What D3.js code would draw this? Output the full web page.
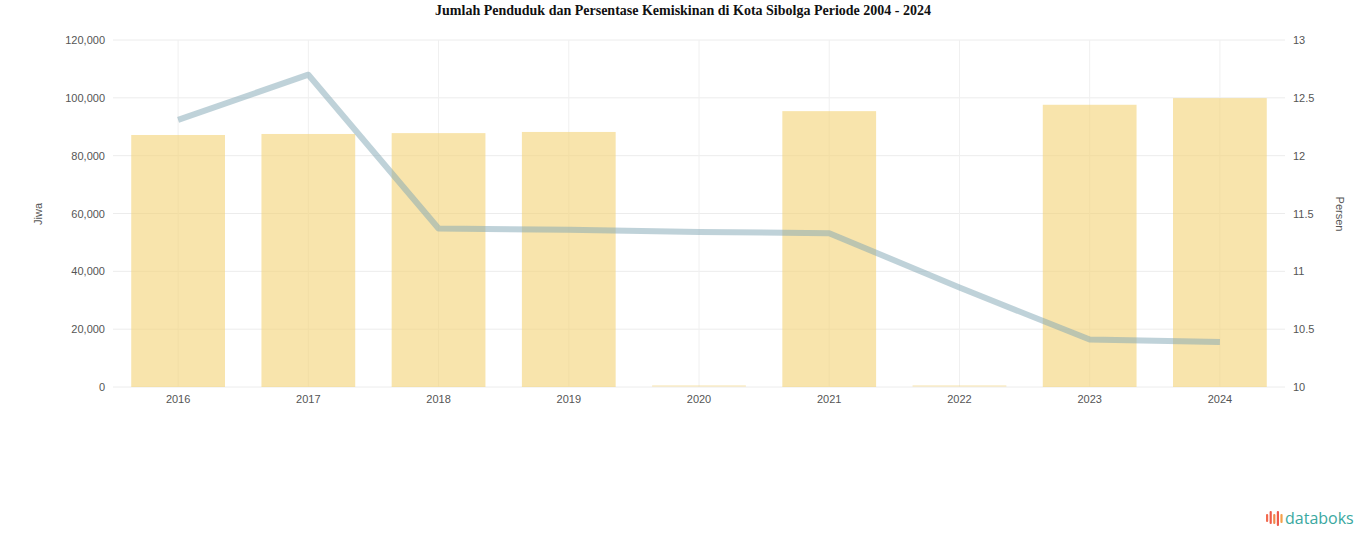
<!DOCTYPE html>
<html><head><meta charset="utf-8">
<script src="https://cdn.jsdelivr.net/npm/d3@7"></script>
<style>body{margin:0;background:#fff}svg{display:block}</style>
</head><body>
<svg id="c" width="1366" height="547"></svg>
<script>
const years = ["2016","2017","2018","2019","2020","2021","2022","2023","2024"];
const population = [87150, 87500, 87800, 88200, 0, 95400, 0, 97600, 99900];
const poverty = [12.31, 12.70, 11.37, 11.36, 11.34, 11.33, 10.86, 10.41, 10.39];
const leftTicks = [0, 20000, 40000, 60000, 80000, 100000, 120000];
const rightTicks = [10, 10.5, 11, 11.5, 12, 12.5, 13];
const titleText = "Jumlah Penduduk dan Persentase Kemiskinan di Kota Sibolga Periode 2004 - 2024";

const svg = d3.select("#c");
const L = 113, R = 1285, T = 40, B = 387;
const x = d3.scaleBand().domain(years).range([L, R]).paddingInner(0.28).paddingOuter(0.14);
const yL = d3.scaleLinear().domain([0, 120000]).range([B, T]);
const yR = d3.scaleLinear().domain([10, 13]).range([B, T]);
const fmt = d3.format(",");

svg.append("text").attr("x", 683).attr("y", 15).attr("text-anchor", "middle")
  .attr("font-family", "Liberation Serif, Times New Roman, serif").attr("font-weight", "bold")
  .attr("font-size", 14).attr("fill", "#111").text(titleText);

// grid
const grid = svg.append("g");
grid.selectAll("line.h").data(leftTicks).join("line")
  .attr("x1", L).attr("x2", R).attr("y1", d => yL(d)).attr("y2", d => yL(d))
  .attr("stroke", "#ececec").attr("stroke-width", 1);
grid.selectAll("line.v").data(years).join("line")
  .attr("x1", d => x(d) + x.bandwidth()/2).attr("x2", d => x(d) + x.bandwidth()/2)
  .attr("y1", T).attr("y2", B).attr("stroke", "#f0f0f0").attr("stroke-width", 1);

// bars
svg.append("g").selectAll("rect").data(years).join("rect")
  .attr("x", d => x(d)).attr("width", x.bandwidth())
  .attr("y", (d, i) => Math.min(yL(population[i]), B - 2))
  .attr("height", (d, i) => Math.max(B - yL(population[i]), 2))
  .attr("fill", "#f3d275").attr("fill-opacity", (d, i) => population[i] > 0 ? 0.6 : 0.3);

// line
const line = d3.line().x((d, i) => x(years[i]) + x.bandwidth()/2).y(d => yR(d));
svg.append("path").datum(poverty).attr("d", line).attr("fill", "none")
  .attr("stroke", "#7fa6b3").attr("stroke-opacity", 0.5).attr("stroke-width", 6)
  .attr("stroke-linejoin", "round");

// axes
const axFont = "Liberation Sans, Arial, sans-serif";
const gL = svg.append("g").attr("transform", `translate(${L},0)`)
  .call(d3.axisLeft(yL).tickValues(leftTicks).tickFormat(d => fmt(d)).tickSize(0).tickPadding(8));
const gR = svg.append("g").attr("transform", `translate(${R},0)`)
  .call(d3.axisRight(yR).tickValues(rightTicks).tickFormat(d => String(d)).tickSize(0).tickPadding(8));
const gX = svg.append("g").attr("transform", `translate(0,${B})`)
  .call(d3.axisBottom(x).tickSize(0).tickPadding(8));
[gL, gR, gX].forEach(g => {
  g.select(".domain").remove();
  g.selectAll("text").attr("font-family", axFont).attr("font-size", 11).attr("fill", "#555");
});

svg.append("text").attr("transform", "translate(42,214) rotate(-90)").attr("text-anchor", "middle")
  .attr("font-family", axFont).attr("font-size", 11).attr("fill", "#555").text("Jiwa");
svg.append("text").attr("transform", "translate(1336,214) rotate(90)").attr("text-anchor", "middle")
  .attr("font-family", axFont).attr("font-size", 11).attr("fill", "#555").text("Persen");

// logo
const logo = svg.append("g").attr("transform", "translate(1266,511)");
const bh = [8, 13, 10, 15, 9];
const bc = ["#f26b4f", "#ef5b4a", "#f08a4b", "#ee5a4d", "#f5a04a"];
bh.forEach((h, i) => {
  logo.append("rect").attr("x", i * 3.6).attr("y", (i % 2 ? 0 : 3)).attr("width", 2.2).attr("height", h)
    .attr("rx", 1).attr("fill", bc[i]);
});
logo.append("text").attr("x", 19).attr("y", 13).attr("font-family", "Open Sans, Roboto, sans-serif")
  .attr("font-size", 16).attr("fill", "#3aa8a0").attr("font-weight", 500).text("databoks");
</script>
</body></html>
